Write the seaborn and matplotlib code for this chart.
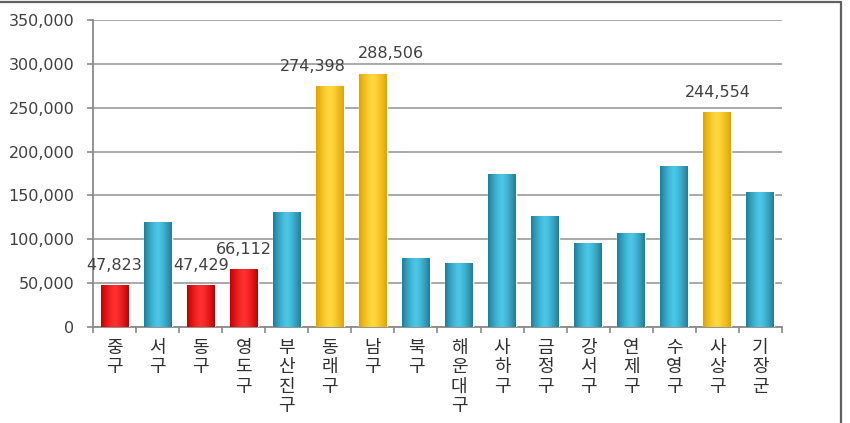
import numpy as np
import pandas as pd
import matplotlib
matplotlib.use('Agg')
import matplotlib.pyplot as plt
import seaborn as sns
from matplotlib.colors import LinearSegmentedColormap
from matplotlib.ticker import FuncFormatter, FixedLocator
from matplotlib.lines import Line2D

# Data
districts = ['중구', '서구', '동구', '영도구', '부산진구', '동래구', '남구', '북구',
             '해운대구', '사하구', '금정구', '강서구', '연제구', '수영구', '사상구', '기장군']
values = [47823, 119200, 47429, 66112, 130600, 274398, 288506, 78100,
          72400, 174000, 126400, 95900, 107300, 183400, 244554, 154100]
groups = ['low', 'mid', 'low', 'low', 'mid', 'high', 'high', 'mid',
          'mid', 'mid', 'mid', 'mid', 'mid', 'mid', 'high', 'mid']
labelled = ['중구', '동구', '영도구', '동래구', '남구', '사상구']

palette = {'low': '#EE0000', 'mid': '#2BA3C3', 'high': '#FFC200'}
# edge / centre shades for the cylinder look
shades = {'low': ('#C00000', '#FF3030'),
          'mid': ('#1F7F99', '#4CC6E6'),
          'high': ('#E0A400', '#FFD840')}

df = pd.DataFrame({'district': districts, 'value': values, 'group': groups})

sns.set_style('white')
plt.rcParams['font.family'] = ['DejaVu Sans', 'Noto Sans CJK KR']

fig = plt.figure(figsize=(8.5, 4.23), dpi=100)
ax = fig.add_axes([93 / 850, 96 / 423, 689 / 850, 307 / 423])

sns.barplot(data=df, x='district', y='value', hue='group', palette=palette,
            dodge=False, legend=False, width=0.65, ax=ax, zorder=3)

ax.set_xlim(-0.5, len(districts) - 0.5)
ax.set_ylim(0, 350000)

# gradient fill for each bar (group taken from the bar's position)
grad = 1 - np.abs(np.linspace(-1, 1, 64)) ** 1.4
for patch in list(ax.patches):
    x0, y0 = patch.get_x(), patch.get_y()
    w, h = patch.get_width(), patch.get_height()
    if not np.isfinite(h) or h <= 0:
        continue
    g = groups[int(round(x0 + w / 2))]
    edge, centre = shades[g]
    cmap = LinearSegmentedColormap.from_list(g, [edge, centre])
    im = ax.imshow(grad[np.newaxis, :], cmap=cmap, extent=(x0, x0 + w, y0, y0 + h),
                   aspect='auto', zorder=4, vmin=0, vmax=1)
    im.set_clip_path(patch)
ax.set_xlim(-0.5, len(districts) - 0.5)
ax.set_ylim(0, 350000)

# grid and axes
ax.set_yticks(np.arange(0, 350001, 50000))
ax.yaxis.set_major_formatter(FuncFormatter(lambda v, p: f'{v:,.0f}'))
ax.grid(axis='y', color='#A8A8A8', linewidth=1.4, zorder=0)
ax.set_axisbelow(True)
for s in ['top', 'right']:
    ax.spines[s].set_visible(False)
for s in ['left', 'bottom']:
    ax.spines[s].set_color('#8A8A8A')
    ax.spines[s].set_linewidth(1.3)

ax.tick_params(axis='y', left=True, length=4.5, width=1.2, color='#8A8A8A',
               labelsize=11.5, labelcolor='#404040', pad=9)
ax.set_xticks(range(len(districts)))
ax.set_xticklabels(['\n'.join(d) for d in districts], family=['Noto Sans CJK KR'],
                   fontsize=13, color='#303030', linespacing=1.1, va='top')
ax.tick_params(axis='x', bottom=False, pad=5)
ax.xaxis.set_minor_locator(FixedLocator(np.arange(-0.5, len(districts), 1)))
ax.tick_params(axis='x', which='minor', bottom=True, length=4, width=1.2, color='#8A8A8A')
ax.set_xlabel('')
ax.set_ylabel('')

# value labels on highlighted bars
label_shift = {'동래구': -12, '남구': 13}
for i, (d, v) in enumerate(zip(districts, values)):
    if d in labelled:
        ax.annotate(f'{v:,}', (i, v), xytext=(label_shift.get(d, 0), 9),
                    textcoords='offset points', ha='center', va='bottom',
                    fontsize=11.5, color='#404040', zorder=6)

# outer frame of the chart area
fig.add_artist(Line2D([0, 841 / 850], [1 - 2 / 423, 1 - 2 / 423],
                      transform=fig.transFigure, color='#606060', linewidth=1.6))
fig.add_artist(Line2D([840.5 / 850, 840.5 / 850], [0, 1 - 2 / 423],
                      transform=fig.transFigure, color='#606060', linewidth=1.6))

fig.savefig('out.png', dpi=100)
plt.close(fig)
